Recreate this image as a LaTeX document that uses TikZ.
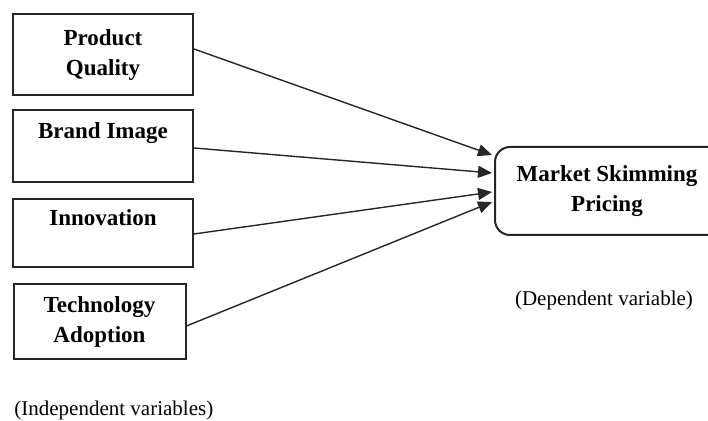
\documentclass[tikz,border=0pt]{standalone}
\usepackage{fontspec}
\setmainfont{Liberation Serif}
\usetikzlibrary{arrows.meta}
\begin{document}
\begin{tikzpicture}[x=0.5pt,y=-0.5pt]
\tikzstyle{var}=[draw=black!85, line width=1pt, align=center, font=\fontsize{11.5}{15}\selectfont\bfseries, inner sep=0pt]
\tikzstyle{link}=[draw=black!85, line width=0.7pt, -{Triangle[length=7pt,width=6pt]}]
\tikzstyle{note}=[font=\fontsize{10.5}{13}\selectfont, inner sep=0pt]
\useasboundingbox (0,0) rectangle (708,421);
\node [var, minimum width=90pt, minimum height=40.5pt] (quality) at (103,55) {Product\\Quality};
\node [var, minimum width=90pt, minimum height=36pt] (brand) at (103,146) {Brand Image\\~};
\node [var, minimum width=90pt, minimum height=34pt] (innov) at (103,233) {Innovation\\~};
\node [var, minimum width=86pt, minimum height=37.5pt] (tech) at (99.5,321.5) {Technology\\Adoption};
\node [var, rounded corners=7.5pt, minimum width=120pt, minimum height=44pt] (skim) at (615,191) {Market Skimming\hspace*{8pt}\\Pricing\hspace*{8pt}};
\node [note] (dep) at (604,300) {(Dependent variable)};
\node [note, anchor=west] (indep) at (14,410) {(Independent variables)};
\draw [link] ([yshift=3pt]quality.east) -- ([xshift=-1pt,yshift=18pt]skim.west);
\draw [link] ([yshift=-1pt]brand.east) -- ([xshift=-1pt,yshift=9pt]skim.west);
\draw [link] ([yshift=-0.5pt]innov.east) -- ([xshift=-1pt,yshift=-0.5pt]skim.west);
\draw [link] ([yshift=-2.25pt]tech.east) -- ([xshift=-1pt,yshift=-5.5pt]skim.west);
\end{tikzpicture}
\end{document}
